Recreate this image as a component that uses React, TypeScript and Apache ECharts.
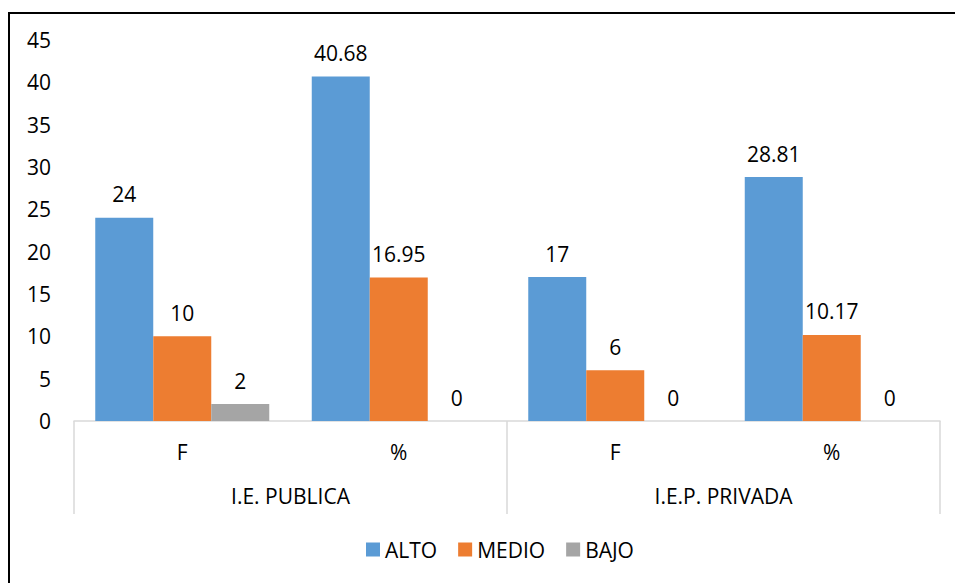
import React, { useEffect, useRef } from "react";
import * as echarts from "echarts";

const subCategories = ["F", "%", "F", "%"];
const groups = ["I.E. PUBLICA", "I.E.P. PRIVADA"];
const alto = [24, 40.68, 17, 28.81];
const medio = [10, 16.95, 6, 10.17];
const bajo = [2, 0, 0, 0];
const yTicks = { min: 0, max: 45, interval: 5 };

const FONT = "Open Sans";
const FS = 21;

export default function App() {
  const ref = useRef<HTMLDivElement>(null);
  useEffect(() => {
    document.body.style.margin = "0";
    const chart = echarts.init(ref.current!, null, { renderer: "svg" });
    const label = {
      show: true,
      position: "top" as const,
      distance: 13,
      color: "#000",
      fontFamily: FONT,
      fontSize: FS,
    };
    const mk = (name: string, data: number[], color: string) => ({
      name,
      type: "bar" as const,
      xAxisIndex: 0,
      data,
      barWidth: 58,
      barGap: "0%",
      itemStyle: { color },
      label,
    });
    chart.setOption({
      animation: false,
      backgroundColor: "#fff",
      textStyle: { fontFamily: FONT },
      graphic: [
        {
          type: "rect",
          shape: { x: 9, y: 13, width: 1000, height: 1000 },
          style: { fill: "none", stroke: "#000", lineWidth: 2 },
          silent: true,
        },
      ],
      grid: { left: 74, right: 15, top: 40, bottom: 162, containLabel: false },
      legend: {
        top: 534,
        left: 361,
        icon: "rect",
        itemWidth: 14,
        itemHeight: 14,
        itemGap: 21,
        textStyle: { fontFamily: FONT, fontSize: FS, color: "#000" },
        data: ["ALTO", "MEDIO", "BAJO"],
      },
      xAxis: [
        {
          type: "category",
          data: subCategories,
          position: "bottom",
          axisLine: { show: true, lineStyle: { color: "#D9D9D9", width: 1.5 } },
          axisTick: { show: false },
          axisLabel: { color: "#000", fontFamily: FONT, fontSize: FS, margin: 20 },
        },
        {
          type: "category",
          data: groups,
          position: "bottom",
          axisLine: { show: false },
          axisTick: {
            show: true,
            length: 93,
            lineStyle: { color: "#D9D9D9", width: 1.5 },
          },
          axisLabel: { color: "#000", fontFamily: FONT, fontSize: FS, margin: 64 },
        },
      ],
      yAxis: {
        type: "value",
        min: yTicks.min,
        max: yTicks.max,
        interval: yTicks.interval,
        axisLine: { show: false },
        axisTick: { show: false },
        splitLine: { show: false },
        axisLabel: { color: "#000", fontFamily: FONT, fontSize: FS, margin: 23 },
      },
      series: [
        mk("ALTO", alto, "#5B9BD5"),
        mk("MEDIO", medio, "#ED7D31"),
        mk("BAJO", bajo, "#A5A5A5"),
      ],
    });
    return () => chart.dispose();
  }, []);
  return <div ref={ref} style={{ width: 955, height: 583 }} />;
}
